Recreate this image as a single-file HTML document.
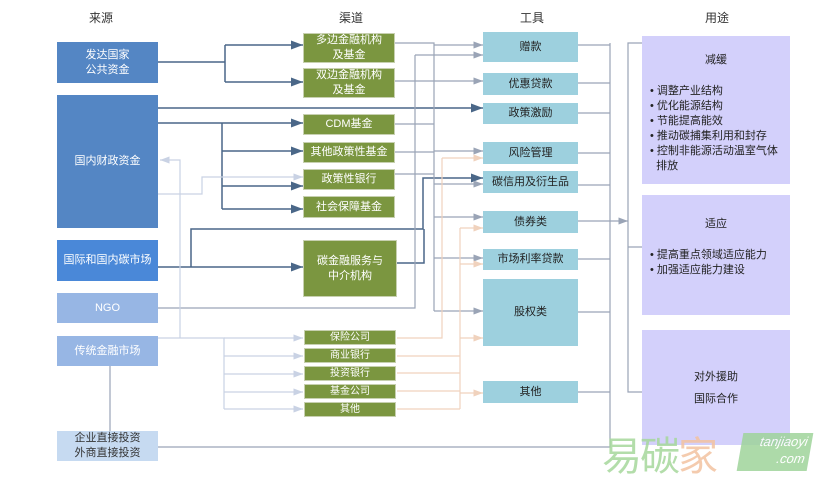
<!DOCTYPE html>
<html><head><meta charset="utf-8">
<style>
body{margin:0;width:818px;height:482px;background:#fff;position:relative;overflow:hidden;font-family:"Liberation Sans","Noto Sans CJK SC",sans-serif;}
.b{position:absolute;display:flex;align-items:center;justify-content:center;text-align:center;font-size:11px;line-height:15px;box-sizing:border-box;}
.s{background:#5486c4;color:#fff;}
.s2{background:#97b6e4;color:#fff;}
.s3{background:#c6daf1;color:#333;}
.g{background:#7b9640;color:#fff;border:1px solid #c7d0b0;}
.sm{font-size:10px;line-height:12px;}
.t{background:#9dd0de;color:#222;}
.u{background:#d3d0fb;color:#222;}
.h{position:absolute;font-size:12px;color:#333;}
svg{position:absolute;left:0;top:0;}
</style></head><body>
<div class="h" style="left:89px;top:9px">来源</div>
<div class="h" style="left:339px;top:9px">渠道</div>
<div class="h" style="left:520px;top:9px">工具</div>
<div class="h" style="left:705px;top:9px">用途</div>

<svg width="818" height="482">
<defs>
<marker id="ad" markerWidth="8" markerHeight="6" refX="8" refY="3" orient="auto"><path d="M0,0L8,3L0,6z" fill="#4a6788"/></marker>
<marker id="ag" markerWidth="8" markerHeight="6" refX="8" refY="3" orient="auto"><path d="M0,0L8,3L0,6z" fill="#9aa4b6"/></marker>
<marker id="al" markerWidth="8" markerHeight="6" refX="8" refY="3" orient="auto"><path d="M0,0L8,3L0,6z" fill="#c9d2e4"/></marker>
<marker id="ap" markerWidth="8" markerHeight="6" refX="8" refY="3" orient="auto"><path d="M0,0L8,3L0,6z" fill="#f0d2bd"/></marker>
</defs>
<g fill="none" stroke-width="1.5">
<g stroke="#4a6788">
<path d="M158,62H225M225,45V82"/>
<path d="M225,45H303" marker-end="url(#ad)"/>
<path d="M225,82H303" marker-end="url(#ad)"/>
<path d="M158,108H483" marker-end="url(#ad)"/>
<path d="M158,123H222M222,123V209"/>
<path d="M222,123H303" marker-end="url(#ad)"/>
<path d="M222,151H303" marker-end="url(#ad)"/>
<path d="M222,186H303" marker-end="url(#ad)"/>
<path d="M222,209H303" marker-end="url(#ad)"/>
<path d="M158,267H303" marker-end="url(#ad)"/>
<path d="M191,267V229H423V178H483" marker-end="url(#ad)"/>
<path d="M397,263H424V229"/>
</g>
<g stroke="#9aa4b6" stroke-width="1.2">
<path d="M395,43H434V311"/>
<path d="M434,45H483" marker-end="url(#ag)"/>
<path d="M395,81H483" marker-end="url(#ag)"/>
<path d="M395,124H434M395,152H434M395,174H434"/>
<path d="M434,151H483" marker-end="url(#ag)"/>
<path d="M434,184H483" marker-end="url(#ag)"/>
<path d="M434,217H483" marker-end="url(#ag)"/>
<path d="M434,258H483" marker-end="url(#ag)"/>
<path d="M434,311H483" marker-end="url(#ag)"/>
<path d="M415,55V308H158"/>
<path d="M415,55H483" marker-end="url(#ag)"/>
<path d="M578,45H610M578,83H610M578,113H610M578,153H610M578,185H610M578,221H610M578,259H610M578,312H610M578,392H610"/>
<path d="M610,43V447H158"/>
<path d="M610,221H628" marker-end="url(#ag)"/>
<path d="M642,43H628V392H642M628,247H642"/>
<path d="M110,366V431"/>
</g>
<g stroke="#c9d2e4" stroke-width="1.2">
<path d="M158,194H202V177H303" marker-end="url(#al)"/>
<path d="M180,338V160H160" marker-end="url(#al)"/>
<path d="M158,338H224V409"/>
<path d="M224,338H303" marker-end="url(#al)"/>
<path d="M224,356H303" marker-end="url(#al)"/>
<path d="M224,374H303" marker-end="url(#al)"/>
<path d="M224,392H303" marker-end="url(#al)"/>
<path d="M224,409H303" marker-end="url(#al)"/>
</g>
<g stroke="#f0d2bd" stroke-width="1.2">
<path d="M397,338H442V158"/>
<path d="M442,158H483" marker-end="url(#ap)"/>
<path d="M397,356H460M397,373H460M397,391H460M397,409H460"/>
<path d="M460,228V409"/>
<path d="M460,228H483" marker-end="url(#ap)"/>
<path d="M460,264H483" marker-end="url(#ap)"/>
<path d="M460,338H483" marker-end="url(#ap)"/>
<path d="M460,393H483" marker-end="url(#ap)"/>
</g>
</g>
</svg>

<div class="b s" style="left:57px;top:42px;width:101px;height:41px">发达国家<br>公共资金</div>
<div class="b s" style="left:57px;top:95px;width:101px;height:133px">国内财政资金</div>
<div class="b s" style="left:57px;top:240px;width:101px;height:41px;background:#4a88d8">国际和国内碳市场</div>
<div class="b s2" style="left:57px;top:293px;width:101px;height:30px">NGO</div>
<div class="b s2" style="left:57px;top:336px;width:101px;height:30px">传统金融市场</div>
<div class="b s3" style="left:57px;top:431px;width:101px;height:30px">企业直接投资<br>外商直接投资</div>

<div class="b g" style="left:303px;top:33px;width:92px;height:30px">多边金融机构<br>及基金</div>
<div class="b g" style="left:303px;top:68px;width:92px;height:30px">双边金融机构<br>及基金</div>
<div class="b g" style="left:303px;top:114px;width:92px;height:21px">CDM基金</div>
<div class="b g" style="left:303px;top:142px;width:92px;height:21px">其他政策性基金</div>
<div class="b g" style="left:303px;top:169px;width:92px;height:21px">政策性银行</div>
<div class="b g" style="left:303px;top:196px;width:92px;height:22px">社会保障基金</div>
<div class="b g" style="left:303px;top:240px;width:94px;height:57px">碳金融服务与<br>中介机构</div>
<div class="b g sm" style="left:304px;top:330px;width:92px;height:15px">保险公司</div>
<div class="b g sm" style="left:304px;top:348px;width:92px;height:15px">商业银行</div>
<div class="b g sm" style="left:304px;top:366px;width:92px;height:15px">投资银行</div>
<div class="b g sm" style="left:304px;top:384px;width:92px;height:15px">基金公司</div>
<div class="b g sm" style="left:304px;top:402px;width:92px;height:15px">其他</div>

<div class="b t" style="left:483px;top:32px;width:95px;height:30px">赠款</div>
<div class="b t" style="left:483px;top:73px;width:95px;height:22px">优惠贷款</div>
<div class="b t" style="left:483px;top:103px;width:95px;height:21px">政策激励</div>
<div class="b t" style="left:483px;top:142px;width:95px;height:22px">风险管理</div>
<div class="b t" style="left:483px;top:171px;width:95px;height:22px">碳信用及衍生品</div>
<div class="b t" style="left:483px;top:211px;width:95px;height:22px">债券类</div>
<div class="b t" style="left:483px;top:249px;width:95px;height:21px">市场利率贷款</div>
<div class="b t" style="left:483px;top:279px;width:95px;height:67px">股权类</div>
<div class="b t" style="left:483px;top:381px;width:95px;height:22px">其他</div>

<div class="b u" style="left:642px;top:36px;width:148px;height:148px;display:block;text-align:left;padding:17px 0 0 8px;">
<div style="text-align:center;margin-bottom:16px;margin-left:-8px">减缓</div>
<div>• 调整产业结构</div><div>• 优化能源结构</div><div>• 节能提高能效</div><div>• 推动碳捕集利用和封存</div><div>• 控制非能源活动温室气体<br>&nbsp;&nbsp;排放</div>
</div>
<div class="b u" style="left:642px;top:195px;width:148px;height:120px;display:block;text-align:left;padding:22px 0 0 8px;">
<div style="text-align:center;margin-bottom:16px;margin-left:-8px">适应</div>
<div>• 提高重点领域适应能力</div><div>• 加强适应能力建设</div>
</div>
<div class="b u" style="left:642px;top:330px;width:148px;height:115px;line-height:22px">对外援助<br>国际合作</div>

<div style="position:absolute;left:602px;top:424px;font-size:40px;color:#a6d89c;opacity:.85;letter-spacing:-2px">易碳<span style="color:#f3c3a0">家</span></div>
<div style="position:absolute;left:740px;top:433px;width:70px;height:38px;background:#9fd49b;opacity:.85;transform:skewX(-10deg);color:#fff;font-size:13px;font-style:italic;text-align:right;padding-right:4px;box-sizing:border-box;line-height:17px">tanjiaoyi<br>.com</div>
</body></html>
